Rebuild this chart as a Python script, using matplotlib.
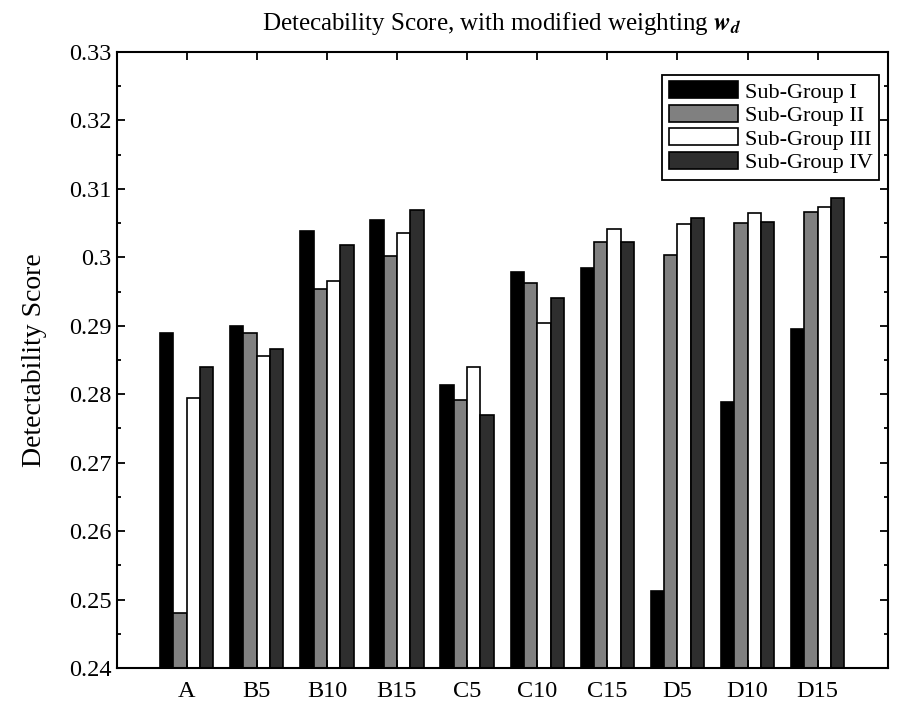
import numpy as np
import matplotlib
matplotlib.use('Agg')
import matplotlib.pyplot as plt
from matplotlib.ticker import MultipleLocator, FuncFormatter

categories = ['A', 'B5', 'B10', 'B15', 'C5', 'C10', 'C15', 'D5', 'D10', 'D15']
group_names = ['Sub-Group I', 'Sub-Group II', 'Sub-Group III', 'Sub-Group IV']
sub1 = [0.2890, 0.2899, 0.3039, 0.3054, 0.2813, 0.2978, 0.2984, 0.2513, 0.2788, 0.2896]
sub2 = [0.2481, 0.2890, 0.2954, 0.3002, 0.2792, 0.2963, 0.3023, 0.3003, 0.3050, 0.3066]
sub3 = [0.2795, 0.2856, 0.2966, 0.3035, 0.2840, 0.2904, 0.3042, 0.3048, 0.3065, 0.3074]
sub4 = [0.2840, 0.2866, 0.3018, 0.3069, 0.2770, 0.2941, 0.3023, 0.3058, 0.3051, 0.3087]
colors = ['#000000', '#808080', '#ffffff', '#2e2e2e']

plt.rcParams['font.family'] = ['Liberation Serif', 'DejaVu Serif']
plt.rcParams['mathtext.fontset'] = 'stix'

fig = plt.figure(figsize=(9.04, 7.02), dpi=100)
ax = fig.add_axes([0.129, 0.0484, 0.853, 0.8775])

x = np.arange(1, len(categories) + 1)
w = 0.19
for i, (vals, name) in enumerate(zip([sub1, sub2, sub3, sub4], group_names)):
    ax.bar(x + (i - 1.5) * w, vals, width=w, color=colors[i], edgecolor='black',
           linewidth=1.2, label=name)

ax.set_xlim(0, 11)
ax.set_ylim(0.24, 0.33)
ax.set_xticks(x)
ax.set_xticklabels(categories)
ax.yaxis.set_major_locator(MultipleLocator(0.01))
ax.yaxis.set_minor_locator(MultipleLocator(0.005))
ax.yaxis.set_major_formatter(FuncFormatter(lambda v, p: ('%.2f' % v).rstrip('0')))
ax.tick_params(axis='both', which='both', direction='in', top=True, right=True,
               labelsize=17.5, width=1.3)
ax.tick_params(which='major', length=6)
ax.tick_params(which='minor', length=3)
ax.tick_params(axis='x', pad=9)
for s in ax.spines.values():
    s.set_linewidth(1.5)

ax.set_ylabel('Detectability Score', fontsize=20, labelpad=16)
ax.set_title(r'Detecability Score, with modified weighting $\mathbfit{w}_{\mathbfit{d}}$',
             fontsize=18, pad=15.5)

leg = ax.legend(loc='upper right', fontsize=16, handlelength=3.1, handleheight=0.8,
                labelspacing=0.1, handletextpad=0.3, borderpad=0.3, fancybox=False,
                edgecolor='black', framealpha=1, borderaxespad=0,
                bbox_to_anchor=(0.989, 0.963))
leg.get_frame().set_linewidth(1.3)

plt.savefig('out.png', dpi=100)
